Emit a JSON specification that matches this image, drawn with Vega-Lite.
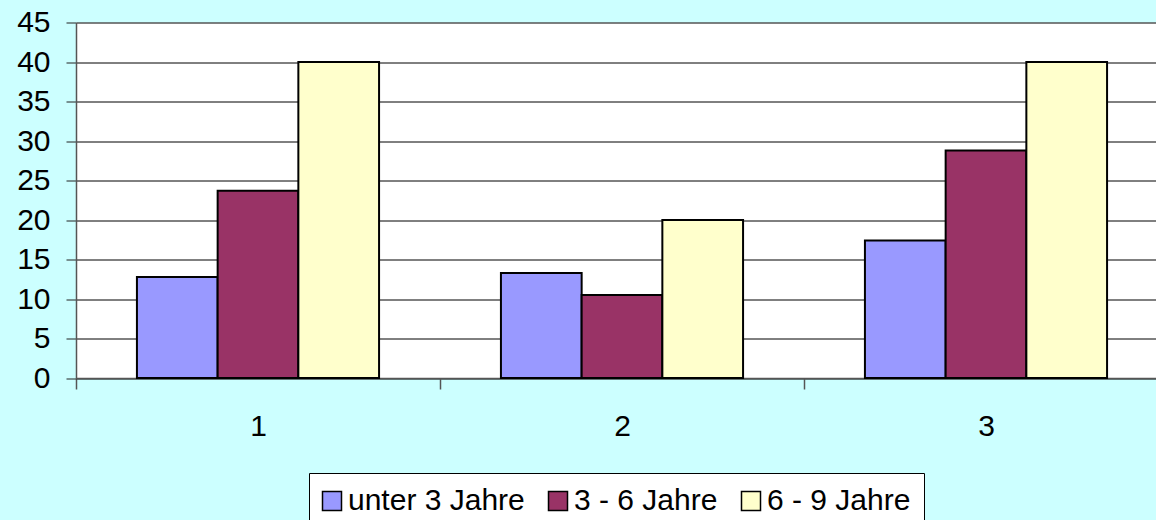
{
  "$schema": "https://vega.github.io/schema/vega-lite/v6.json",
  "width": 1080,
  "height": 355.5,
  "autosize": {"type": "none"},
  "padding": {"left": 76, "top": 22.5, "right": 0, "bottom": 142},
  "background": "#CCFFFF",
  "config": {
    "view": {"fill": "#FFFFFF", "stroke": null},
    "font": "Liberation Sans"
  },
  "data": {
    "values": [
      {"Gruppe": "1", "Alter": "unter 3 Jahre", "Wert": 12.8},
      {"Gruppe": "1", "Alter": "3 - 6 Jahre", "Wert": 23.7},
      {"Gruppe": "1", "Alter": "6 - 9 Jahre", "Wert": 40},
      {"Gruppe": "2", "Alter": "unter 3 Jahre", "Wert": 13.3},
      {"Gruppe": "2", "Alter": "3 - 6 Jahre", "Wert": 10.5},
      {"Gruppe": "2", "Alter": "6 - 9 Jahre", "Wert": 20},
      {"Gruppe": "3", "Alter": "unter 3 Jahre", "Wert": 17.4},
      {"Gruppe": "3", "Alter": "3 - 6 Jahre", "Wert": 28.8},
      {"Gruppe": "3", "Alter": "6 - 9 Jahre", "Wert": 40}
    ]
  },
  "mark": {"type": "bar", "stroke": "#000000", "strokeWidth": 2},
  "encoding": {
    "x": {
      "field": "Gruppe",
      "type": "nominal",
      "scale": {"range": [0, 1092], "paddingInner": 0, "paddingOuter": 0},
      "axis": {
        "title": null,
        "labelAngle": 0,
        "labelFontSize": 30,
        "labelColor": "#000000",
        "labelPadding": 22,
        "tickSize": 11,
        "tickBand": "extent",
        "tickColor": "#555555",
        "domainColor": "#555555",
        "tickWidth": 1.5,
        "domainWidth": 1.5,
        "grid": false
      }
    },
    "xOffset": {
      "field": "Alter",
      "type": "nominal",
      "sort": ["unter 3 Jahre", "3 - 6 Jahre", "6 - 9 Jahre"],
      "scale": {"paddingInner": 0, "paddingOuter": 0.755}
    },
    "y": {
      "field": "Wert",
      "type": "quantitative",
      "scale": {"domain": [0, 45], "nice": false},
      "axis": {
        "title": null,
        "values": [0, 5, 10, 15, 20, 25, 30, 35, 40, 45],
        "labelFontSize": 30,
        "labelColor": "#000000",
        "labelPadding": 16,
        "tickSize": 10,
        "tickColor": "#222222",
        "domainColor": "#555555",
        "domainWidth": 1.5,
        "grid": true,
        "gridColor": "#000000",
        "gridWidth": 1,
        "gridOpacity": 1
      }
    },
    "color": {
      "field": "Alter",
      "type": "nominal",
      "sort": ["unter 3 Jahre", "3 - 6 Jahre", "6 - 9 Jahre"],
      "scale": {
        "domain": ["unter 3 Jahre", "3 - 6 Jahre", "6 - 9 Jahre"],
        "range": ["#9999FF", "#993366", "#FFFFCC"]
      },
      "legend": {
        "title": null,
        "orient": "none",
        "direction": "horizontal",
        "legendX": 233,
        "legendY": 450.5,
        "padding": 13,
        "fillColor": "#FFFFFF",
        "strokeColor": "#000000",
        "symbolType": "square",
        "symbolSize": 361,
        "symbolOffset": -5,
        "symbolStrokeColor": "#000000",
        "symbolStrokeWidth": 1.5,
        "symbolOpacity": 1,
        "labelFontSize": 30,
        "labelColor": "#000000",
        "labelOffset": 1,
        "columnPadding": 20,
        "labelLimit": 400
      }
    }
  }
}
